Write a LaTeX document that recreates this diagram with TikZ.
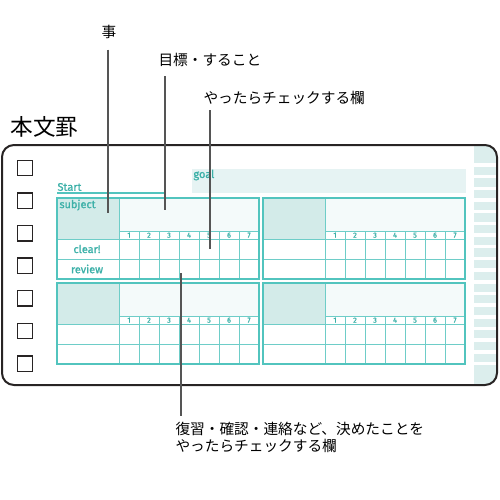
\documentclass[tikz,border=0pt]{standalone}
\usepackage{fontspec}
\setmainfont{Liberation Serif}
\newfontfamily\jpfont{Noto Sans CJK JP}
\newfontfamily\labfont{Fira Sans}[FakeBold=1.2]
\definecolor{framegray}{RGB}{40, 36, 36}
\definecolor{leadgray}{RGB}{85, 85, 85}
\definecolor{lineteal}{RGB}{82, 196, 190}
\definecolor{thinteal}{RGB}{110, 205, 200}
\definecolor{textteal}{RGB}{60, 176, 168}
\definecolor{subjfill}{RGB}{211, 235, 233}
\definecolor{headfill}{RGB}{244, 250, 250}
\definecolor{goalfill}{RGB}{230, 243, 243}
\definecolor{stripefill}{RGB}{220, 238, 237}
\usepackage{tikz}
\tikzset{every picture/.style={line width=0.75pt}}

\begin{document}
\begin{tikzpicture}[x=0.75pt,y=0.75pt,yscale=-1,xscale=1,
  leader/.style={draw=leadgray, line width=1.5pt},
  jplabel/.style={font=\jpfont\fontsize{11}{12.5}\selectfont, inner sep=0.75pt},
  tealtext/.style={text=textteal, font=\labfont\fontsize{8.2}{9}\selectfont, inner sep=0.75pt},
  numtext/.style={text=textteal, font=\labfont\fontsize{5.5}{6}\selectfont, inner sep=0pt},
  checkbox/.style={draw=framegray, line width=1.1pt, minimum size=11.5pt, inner sep=0pt},
  outerline/.style={draw=lineteal, line width=1.1pt},
  innerline/.style={draw=thinteal, line width=0.75pt}]
\useasboundingbox (0,0) rectangle (500,500);

%Shape: Stripe column
\begin{scope}
\clip [rounded corners=9pt] (2,145) rectangle (497,385);
\fill [stripefill] (474,146) rectangle (496,384);
\foreach \i in {0,...,17}
  \fill [white] (474,{163.3+11.67*\i}) rectangle (496,{166.8+11.67*\i});
\end{scope}
%Shape: Rounded frame
\draw [framegray, line width=1.5pt, rounded corners=9pt] (2,145) rectangle (497,385);

%Shape: Check boxes
\foreach \i in {1,...,7}
  \node [checkbox] (box\i) at (25,{168+32.6*(\i-1)}) {};

%Shape: Goal bar
\fill [goalfill] (192,169) rectangle (466,193);
%Straight Lines: Start underline
\draw [lineteal, line width=1.3pt] (57,193) -- (165,193);

%Shape: Grid blocks
\foreach \bx/\by/\bn in {57/198/a, 263/198/b, 57/283/c, 263/283/d} {
  \fill [subjfill] (\bx,\by) rectangle ({\bx+62},{\by+41});
  \fill [headfill] ({\bx+62},\by) rectangle ({\bx+202},{\by+33});
  \draw [innerline] ({\bx+62},{\by+33}) -- ({\bx+202},{\by+33});
  \draw [innerline] (\bx,{\by+41}) -- ({\bx+202},{\by+41});
  \draw [innerline] (\bx,{\by+61}) -- ({\bx+202},{\by+61});
  \draw [innerline] ({\bx+62},\by) -- ({\bx+62},{\by+81});
  \foreach \k in {1,...,7} {
    \ifnum\k<7
      \draw [innerline] ({\bx+62+20*\k},{\by+33}) -- ({\bx+62+20*\k},{\by+81});
    \fi
    \node [numtext] (num-\bn-\k) at ({\bx+52+20*\k},{\by+37.2}) {\k};
  }
  \draw [outerline] (\bx,\by) rectangle ({\bx+202},{\by+81});
}

% Text Node
\node [tealtext, anchor=west] (start) at (56,187) {Start};
% Text Node
\node [tealtext, anchor=west] (goal) at (192,175) {goal};
% Text Node
\node [tealtext, anchor=west] (subject) at (58,205) {subject};
% Text Node
\node [tealtext] (clear) at (87,249) {clear!};
% Text Node
\node [tealtext] (review) at (87,269) {review};

% Text Node
\node [jplabel, font=\jpfont\fontsize{17}{19}\selectfont, anchor=west] (honbun) at (9,127) {本文罫};
% Text Node
\node [jplabel] (koto) at (109,32) {事};
% Text Node
\node [jplabel, anchor=west] (mokuhyo) at (157,60) {目標・すること};
% Text Node
\node [jplabel, anchor=west] (yattara) at (202,98) {やったらチェックする欄};
% Text Node
\node [jplabel, anchor=north west, align=left] (fukushu) at (174,421) {復習・確認・連絡など、決めたことを\\やったらチェックする欄};

%Straight Lines: leaders
\coordinate (tipkoto) at (108,213);
\coordinate (tipgoal) at (165,210);
\coordinate (tipcheck) at (210,249);
\coordinate (tipreview) at (181,273);
\draw [leader, shorten <=7pt] (tipkoto |- koto.south) -- (tipkoto);
\draw [leader, shorten <=6pt] (tipgoal |- mokuhyo.south) -- (tipgoal);
\draw [leader, shorten <=3pt] (tipcheck |- yattara.south) -- (tipcheck);
\draw [leader, shorten >=4pt] (tipreview) -- (tipreview |- fukushu.north);

\end{tikzpicture}
\end{document}
